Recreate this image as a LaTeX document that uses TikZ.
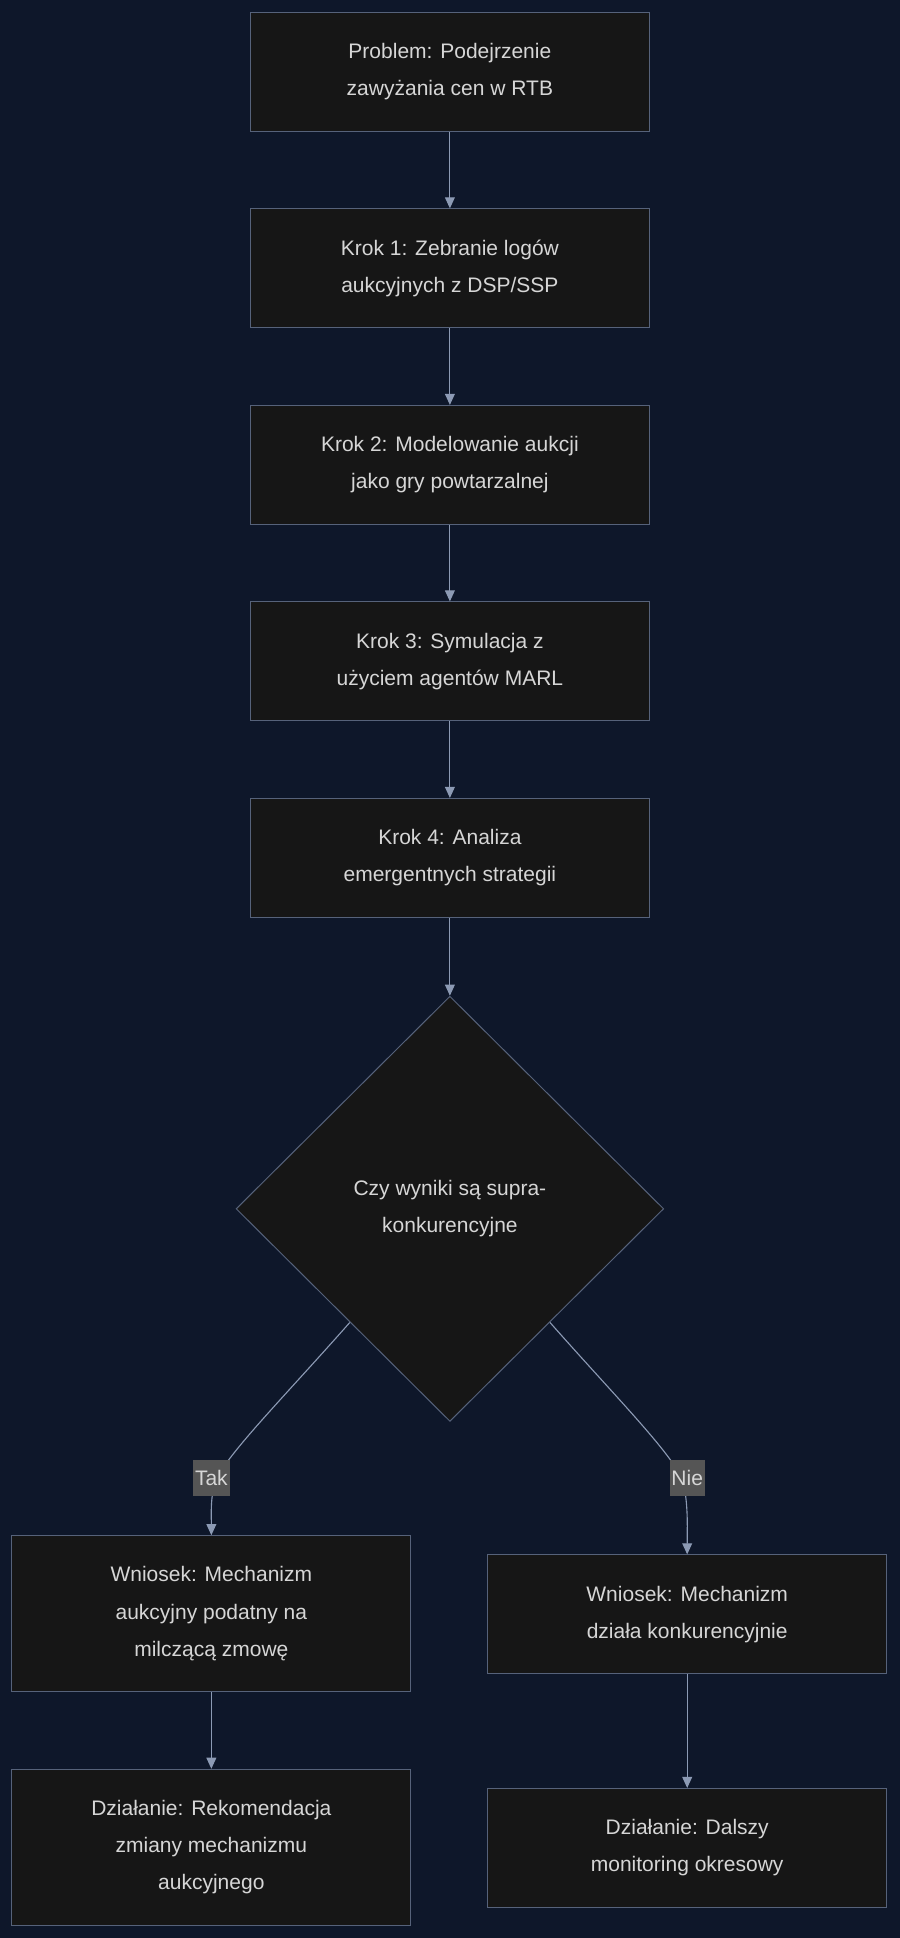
\documentclass[tikz,border=0pt]{standalone}
\usepackage{fontspec}
\setmainfont{Liberation Sans}
\usetikzlibrary{shapes.geometric,arrows.meta}
\definecolor{bg}{HTML}{0E172A}
\definecolor{boxfill}{HTML}{161616}
\definecolor{boxline}{HTML}{56627A}
\definecolor{txt}{HTML}{D6D6D6}
\definecolor{arr}{HTML}{8C9AB4}
\definecolor{lbl}{HTML}{555555}
\begin{document}
\begin{tikzpicture}[x=1pt,y=-1pt,
  box/.style={draw=boxline,fill=boxfill,text=txt,minimum width=323pt,align=center,font=\fontsize{17}{30}\selectfont,line width=0.8pt},
  dia/.style={diamond,draw=boxline,fill=boxfill,text=txt,minimum width=346pt,minimum height=344pt,align=center,font=\fontsize{17}{30}\selectfont,inner sep=0pt,line width=0.8pt},
  lab/.style={fill=lbl,text=txt,font=\fontsize{17}{20}\selectfont,inner sep=1.5pt,minimum height=29pt},
  ar/.style={draw=arr,line width=0.9pt,-{Triangle[length=9pt,width=8pt]}}]
\fill[bg] (0,0) rectangle (728,1568);
\useasboundingbox (0,0) rectangle (728,1568);
\node[box,minimum height=96pt] (b1) at (364,58) {Problem: Podejrzenie\\zawyżania cen w RTB};
\node[box,minimum height=96pt] (b2) at (364,217) {Krok 1: Zebranie logów\\aukcyjnych z DSP/SSP};
\node[box,minimum height=96pt] (b3) at (364,376) {Krok 2: Modelowanie aukcji\\jako gry powtarzalnej};
\node[box,minimum height=96pt] (b4) at (364,535) {Krok 3: Symulacja z\\użyciem agentów MARL};
\node[box,minimum height=96pt] (b5) at (364,694) {Krok 4: Analiza\\emergentnych strategii};
\node[dia] (d) at (364,978) {Czy wyniki są supra-\\konkurencyjne};
\node[box,minimum height=126pt] (l1) at (171,1305.5) {Wniosek: Mechanizm\\aukcyjny podatny na\\milczącą zmowę};
\node[box,minimum height=126pt] (l2) at (171,1494.5) {Działanie: Rekomendacja\\zmiany mechanizmu\\aukcyjnego};
\node[box,minimum height=96pt] (r1) at (556,1306) {Wniosek: Mechanizm\\działa konkurencyjnie};
\node[box,minimum height=96pt] (r2) at (556,1495) {Działanie: Dalszy\\monitoring okresowy};
\draw[ar] (b1) -- (b2);
\draw[ar] (b2) -- (b3);
\draw[ar] (b3) -- (b4);
\draw[ar] (b4) -- (b5);
\draw[ar] (b5) -- (d.north);
\coordinate (dl) at (283,1070);
\coordinate (dr) at (445,1070);
\draw[ar] (dl) .. controls (230,1130) and (190,1170) .. (175,1196) .. controls (170,1210) and (171,1225) .. (l1.north);
\draw[ar] (dr) .. controls (498,1130) and (538,1170) .. (552,1196) .. controls (557,1215) and (556,1235) .. (r1.north);
\node[lab] (tak) at (171,1196) {Tak};
\node[lab] (nie) at (556,1196) {Nie};
\draw[ar] (l1) -- (l2);
\draw[ar] (r1) -- (r2);
\end{tikzpicture}
\end{document}
